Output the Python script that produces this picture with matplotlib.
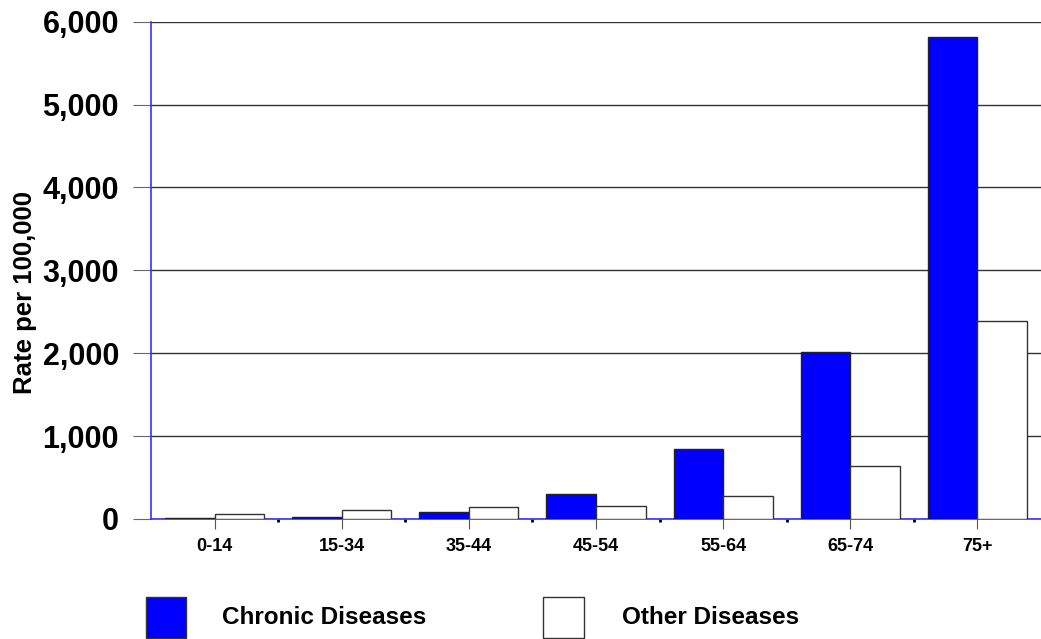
import numpy as np
import matplotlib.pyplot as plt
from matplotlib.patches import Rectangle
from matplotlib.ticker import FuncFormatter, MultipleLocator

plt.rcParams['font.family'] = ['Liberation Sans', 'DejaVu Sans']
plt.rcParams['font.weight'] = 'bold'

# data
age_groups = ['0-14', '15-34', '35-44', '45-54', '55-64', '65-74', '75+']
chronic = [10, 20, 80, 298, 845, 2013, 5821]
other = [60, 105, 140, 157, 274, 636, 2388]

fig = plt.figure(figsize=(10.41, 6.39), dpi=100)
ax = fig.add_axes([0.145, 0.188, 0.855, 0.778])

x = np.arange(len(age_groups))
w = 0.39
ax.bar(x - w, chronic, width=w, align='edge', color='#0000ff', edgecolor='#222222', linewidth=1, zorder=3)
ax.bar(x, other, width=w, align='edge', color='white', edgecolor='#333333', linewidth=1, zorder=3)

ax.set_xlim(-0.5, len(age_groups) - 0.5)
ax.set_ylim(0, 6000)
ax.yaxis.set_major_locator(MultipleLocator(1000))
ax.yaxis.set_major_formatter(FuncFormatter(lambda v, p: f'{int(v):,}'))
ax.grid(axis='y', color='#333333', linewidth=1, zorder=0)

for s in ['top', 'right']:
    ax.spines[s].set_visible(False)
ax.spines['left'].set_color('#3333ff')
ax.spines['bottom'].set_color('#3333ff')
ax.spines['left'].set_linewidth(1.2)
ax.spines['bottom'].set_linewidth(1.2)

ax.set_xticks(x)
ax.set_xticklabels(age_groups)
ax.set_xticks(x[:-1] + 0.5, minor=True)
ax.tick_params(axis='x', which='major', length=7, color='#555555', labelsize=13, pad=7)
ax.tick_params(axis='x', which='minor', length=2, width=2, color='black', direction='out')
ax.tick_params(axis='y', length=13, color='#666666', labelsize=22, pad=10)
ax.set_ylabel('Rate per 100,000', fontsize=18.5, fontweight='bold', va='center')
ax.yaxis.set_label_coords(-0.1416, 0.4557)

# legend drawn below the axes
fig.patches.append(Rectangle((146 / 1041, 1 - 638 / 639), 40 / 1041, 41 / 639,
                             transform=fig.transFigure, facecolor='#0000ff', edgecolor='#333333', linewidth=1))
fig.patches.append(Rectangle((543 / 1041, 1 - 638 / 639), 41 / 1041, 41 / 639,
                             transform=fig.transFigure, facecolor='white', edgecolor='#333333', linewidth=1))
fig.text(222 / 1041, 1 - 617 / 639, 'Chronic Diseases', fontsize=17.5, fontweight='bold', va='center')
fig.text(622 / 1041, 1 - 617 / 639, 'Other Diseases', fontsize=17.5, fontweight='bold', va='center')

fig.savefig('out.png', dpi=100)
